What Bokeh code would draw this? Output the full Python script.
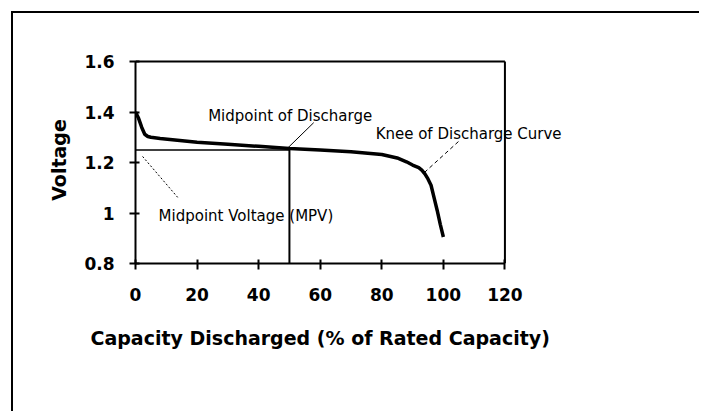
from bokeh.plotting import figure
from bokeh.models import Range1d, FixedTicker, Label, Title
from bokeh.embed import file_html
from bokeh.resources import INLINE

# ---- data ----
capacity = [0, 1, 2, 3, 4, 5, 8, 12, 20, 30, 40, 50, 60, 70, 80, 85, 88, 90,
            92, 93, 94, 95, 96, 97, 98, 99, 100]
voltage = [1.40, 1.375, 1.34, 1.312, 1.303, 1.30, 1.295, 1.29, 1.28, 1.272,
           1.264, 1.256, 1.25, 1.243, 1.232, 1.218, 1.203, 1.19, 1.18, 1.17,
           1.155, 1.135, 1.11, 1.06, 1.01, 0.955, 0.905]

x_ticks = [0, 20, 40, 60, 80, 100, 120]
y_ticks = [0.8, 1.0, 1.2, 1.4, 1.6]
y_tick_labels = ["0.8", "1", "1.2", "1.4", "1.6"]
x_min, x_max = 0, 120
y_min, y_max = 0.8, 1.6

mpv = 1.25            # midpoint voltage
mid_capacity = 50     # midpoint of discharge

# annotation leader lines (start/end in data units)
mid_leader_x = [57.9, 49.5]
mid_leader_y = [1.358, 1.258]
knee_leader_x = [104.9, 93.8]
knee_leader_y = [1.283, 1.16]
mpv_leader_x = [2.3, 13.7]
mpv_leader_y = [1.224, 1.062]

FONT = "DejaVu Sans"

p = figure(width=688, height=400, output_backend="svg", toolbar_location=None,
           x_range=Range1d(0, 140), y_range=Range1d(0.8, 1.62),
           min_border_left=122, min_border_right=135, min_border_top=43,
           min_border_bottom=150,
           styles={"border-left": "2px solid black", "border-top": "2px solid black",
                   "margin": "11px 0 0 11px"})
p.grid.visible = False
p.outline_line_color = None
p.background_fill_color = "white"
p.border_fill_color = "white"

for ax in (p.xaxis, p.yaxis):
    ax.axis_line_width = 2
    ax.major_tick_line_width = 2
    ax.major_tick_in = 4
    ax.major_tick_out = 6
    ax.minor_tick_line_color = None
    ax.major_label_text_font = FONT
    ax.major_label_text_font_style = "bold"
    ax.major_label_text_font_size = "17px"
    ax.major_label_text_color = "black"
    ax.axis_label_text_font = FONT
    ax.axis_label_text_font_style = "bold"
    ax.axis_label_text_font_size = "19px"
    ax.axis_label_text_color = "black"

p.xaxis.bounds = (x_min, x_max)
p.yaxis.bounds = (y_min, y_max)
p.xaxis.ticker = FixedTicker(ticks=x_ticks)
p.yaxis.ticker = FixedTicker(ticks=y_ticks)
p.yaxis.major_label_overrides = {t: l for t, l in zip(y_ticks, y_tick_labels)}
p.yaxis.axis_label = "Voltage"
p.xaxis.major_label_standoff = 18
p.yaxis.major_label_standoff = 15
p.yaxis.axis_label_standoff = 11

# x-axis title, centred under the 0-120 axis (not the wider frame)
p.add_layout(Title(text="Capacity Discharged (% of Rated Capacity)", align="left",
                   offset=-45, standoff=42, text_font=FONT, text_font_size="19px",
                   text_font_style="bold", text_color="black"), "below")

# plot box (top and right edges)
p.line([x_min, x_max], [y_max, y_max], line_color="black", line_width=2)
p.line([x_max, x_max], [y_min, y_max], line_color="black", line_width=2)

# midpoint reference lines
p.line([0, mid_capacity], [mpv, mpv], line_color="black", line_width=1.5)
p.line([mid_capacity, mid_capacity], [mpv, y_min], line_color="black", line_width=2)

# discharge curve
p.line(capacity, voltage, line_color="black", line_width=3.5)

# leaders
p.line(mid_leader_x, mid_leader_y, line_color="black", line_width=1)
p.line(knee_leader_x, knee_leader_y, line_color="black", line_width=1, line_dash="4 3")
p.line(mpv_leader_x, mpv_leader_y, line_color="black", line_width=1, line_dash="2 2")

for txt, x, y in [("Midpoint of Discharge", 23.6, 1.386),
                  ("Knee of Discharge Curve", 78.0, 1.314),
                  ("Midpoint Voltage (MPV)", 7.5, 0.99)]:
    p.add_layout(Label(x=x, y=y, text=txt, text_font=FONT, text_font_size="15px",
                       text_color="black", text_align="left",
                       text_baseline="alphabetic"))

open("out.html", "w").write(file_html(p, INLINE))
